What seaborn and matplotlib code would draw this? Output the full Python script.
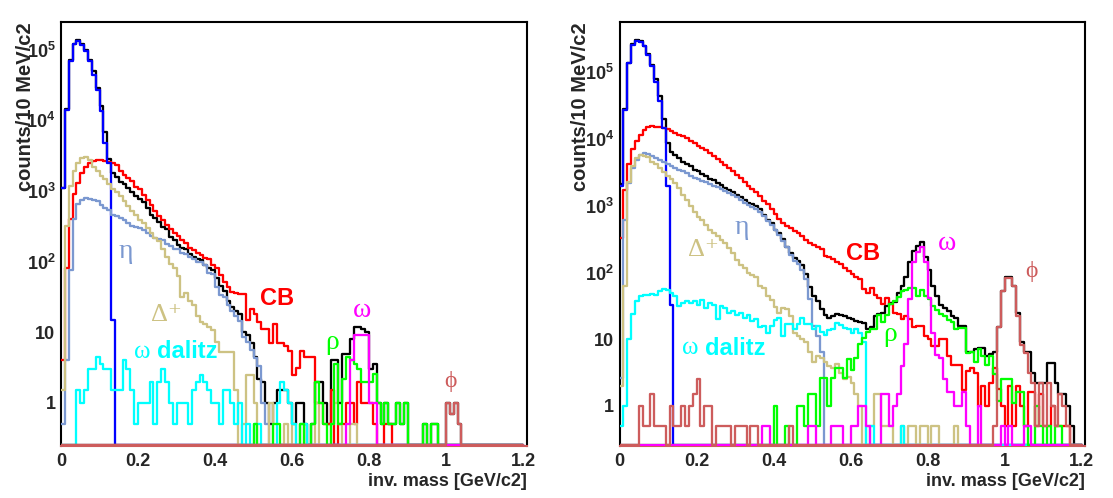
import numpy as np
import pandas as pd
import matplotlib
matplotlib.use("Agg")
import matplotlib.pyplot as plt
from matplotlib.ticker import MultipleLocator, LogLocator, FixedLocator, FuncFormatter, NullFormatter
import seaborn as sns

# 120 bins of 10 MeV from 0 to 1.2 GeV (counts per bin)

LEFT_BLACK = [
    1100, 14500, 70000, 120000, 135000, 120000, 98000, 71000, 49000, 29000,
    16000, 6900, 2800, 1800, 1550, 1350, 1250, 1100, 950, 850,
    760, 690, 580, 460, 420, 360, 310, 285, 220, 205,
    170, 155, 150, 130, 115, 110, 105, 90, 80, 75,
    58, 45, 38, 28, 23, 20, 18, 10, 9, 7,
    4.5, 2.2, 2, 1, 0.5, 1, 1.5, 1.5, 1.5, 1,
    0.5, 1, 1, 0.5, 0, 0.5, 2, 2, 1, 0.5,
    4, 4, 1, 5, 5, 8, 12, 12, 11, 10,
    3, 3.5, 1, 0.5, 1, 0.5, 0.5, 1, 0.5, 1,
    0, 0, 0, 0, 0.5, 0, 0.5, 0.5, 0, 0,
    1, 0.7, 1, 0.5, 0, 0, 0, 0, 0, 0,
    0, 0, 0, 0, 0, 0, 0, 0, 0, 0,
]
LEFT_CB = [
    4, 80, 400, 900, 1300, 1800, 2200, 2450, 2650, 2700,
    2700, 2650, 2600, 2500, 2300, 1900, 1700, 1500, 1380, 1150,
    1050, 880, 750, 640, 520, 440, 390, 330, 290, 255,
    230, 205, 182, 155, 147, 133, 125, 112, 110, 90,
    80, 65, 52, 44, 37, 36, 35, 35, 15, 21,
    18, 14, 11, 11, 7, 13, 7, 7, 6.3, 5.5,
    2.5, 3.1, 5.5, 4.4, 4.4, 4.4, 1, 1, 0.5, 0.5,
    1.5, 0, 0.5, 0.5, 1, 1, 0.5, 2, 1, 1,
    1, 0.5, 0, 0, 0.5, 0.5, 0, 0, 0, 0,
    0, 0, 0, 0, 0, 0, 0, 0, 0, 0,
    0, 0, 0, 0, 0, 0, 0, 0, 0, 0,
    0, 0, 0, 0, 0, 0, 0, 0, 0, 0,
]
LEFT_PI0 = [
    1100, 14000, 68000, 118000, 132000, 117000, 95000, 68000, 44000, 27000,
    13500, 4800, 2500, 15, 0, 0, 0, 0, 0, 0,
    0, 0, 0, 0, 0, 0, 0, 0, 0, 0,
    0, 0, 0, 0, 0, 0, 0, 0, 0, 0,
    0, 0, 0, 0, 0, 0, 0, 0, 0, 0,
    0, 0, 0, 0, 0, 0, 0, 0, 0, 0,
    0, 0, 0, 0, 0, 0, 0, 0, 0, 0,
    0, 0, 0, 0, 0, 0, 0, 0, 0, 0,
    0, 0, 0, 0, 0, 0, 0, 0, 0, 0,
    0, 0, 0, 0, 0, 0, 0, 0, 0, 0,
    0, 0, 0, 0, 0, 0, 0, 0, 0, 0,
    0, 0, 0, 0, 0, 0, 0, 0, 0, 0,
]
LEFT_ETA = [
    0.5, 4, 75, 400, 650, 750, 800, 780, 750, 720,
    640, 570, 530, 460, 440, 410, 390, 350, 315, 305,
    300, 280, 255, 230, 215, 210, 200, 180, 168, 150,
    150, 133, 128, 117, 110, 100, 98, 88, 70, 66,
    44, 34, 32, 24, 20, 17, 14.6, 8.7, 7.4, 5.6,
    4.3, 3.3, 1, 0.5, 0, 0, 0, 0, 0, 0,
    0, 0, 0, 0, 0, 0, 0, 0, 0, 0,
    0, 0, 0, 0, 0, 0, 0, 0, 0, 0,
    0, 0, 0, 0, 0, 0, 0, 0, 0, 0,
    0, 0, 0, 0, 0, 0, 0, 0, 0, 0,
    0, 0, 0, 0, 0, 0, 0, 0, 0, 0,
    0, 0, 0, 0, 0, 0, 0, 0, 0, 0,
]
LEFT_DELTA = [
    1.5, 320, 1170, 1900, 2500, 2900, 3000, 2750, 2200, 1900,
    1600, 1450, 1250, 1050, 950, 840, 720, 610, 520, 460,
    390, 350, 300, 255, 215, 195, 150, 115, 93, 80,
    63, 32, 36, 28, 24, 17, 14, 13, 12, 10.8,
    7.4, 5.3, 5.3, 5.3, 5.3, 1.5, 0, 0.5, 2.5, 2.5,
    1, 0, 0, 0, 1, 0, 0, 0, 0.5, 0,
    0.5, 0, 0.5, 0, 0, 0, 1, 0, 0, 0,
    0.5, 1, 0.5, 0, 0, 0.5, 0.5, 0, 0, 0,
    0, 0, 0, 0, 0, 0, 0, 0, 0, 0,
    0, 0, 0, 0, 0, 0, 0, 0, 0, 0,
    0, 0, 0, 0, 0, 0, 0, 0, 0, 0,
    0, 0, 0, 0, 0, 0, 0, 0, 0, 0,
]
LEFT_OMEGA_DALITZ = [
    0, 0, 0, 0, 1.5, 1, 1.5, 3, 3, 4.5,
    3.5, 3, 3, 1.5, 1.5, 1.5, 4, 3, 1.5, 0.5,
    1, 1, 1, 2, 0.5, 2, 3, 2, 1, 0.5,
    1, 1, 1, 0.5, 1.5, 2, 2.5, 2, 1.5, 1,
    1, 0.5, 1.5, 1.5, 1, 0.5, 1, 0, 0.5, 0,
    0.5, 0.5, 0, 0, 0, 0, 1, 2, 1.5, 1,
    0.5, 0, 0.5, 0.5, 0, 0, 0, 0, 0, 0,
    0, 0, 0, 0, 0, 0, 0, 0, 0, 0,
    0, 0, 0, 0, 0, 0, 0, 0, 0, 0,
    0, 0, 0, 0, 0, 0, 0, 0, 0, 0,
    0, 0, 0, 0, 0, 0, 0, 0, 0, 0,
    0, 0, 0, 0, 0, 0, 0, 0, 0, 0,
]
LEFT_RHO = [
    0, 0, 0, 0, 0, 0, 0, 0, 0, 0,
    0, 0, 0, 0, 0, 0, 0, 0, 0, 0,
    0, 0, 0, 0, 0, 0, 0, 0, 0, 0,
    0, 0, 0, 0, 0, 0, 0, 0, 0, 0,
    0, 0, 0, 0, 0, 0, 0, 0, 0, 0,
    0.5, 0, 0, 0, 0, 0.5, 0.5, 0, 0, 0,
    0, 0, 0.5, 0, 0, 0.5, 2, 1, 0.5, 0,
    0.5, 3.5, 0.5, 2.2, 4.5, 4, 3.5, 3, 2, 2,
    2, 2.6, 1, 0.5, 1, 0.5, 0.5, 1, 0.5, 1,
    0, 0, 0, 0, 0.5, 0, 0.5, 0.5, 0, 0,
    0, 0, 0, 0, 0, 0, 0, 0, 0, 0,
    0, 0, 0, 0, 0, 0, 0, 0, 0, 0,
]
LEFT_OMEGA = [
    0, 0, 0, 0, 0, 0, 0, 0, 0, 0,
    0, 0, 0, 0, 0, 0, 0, 0, 0, 0,
    0, 0, 0, 0, 0, 0, 0, 0, 0, 0,
    0, 0, 0, 0, 0, 0, 0, 0, 0, 0,
    0, 0, 0, 0, 0, 0, 0, 0, 0, 0,
    0, 0, 0, 0, 0, 0, 0, 0, 0, 0,
    0, 0, 0, 0, 0, 0, 0, 0, 0, 0,
    0, 0, 0, 0, 0.5, 4, 9, 9, 9, 9,
    1, 1, 0, 0, 0, 0, 0, 0, 0, 0,
    0, 0, 0, 0, 0, 0, 0, 0, 0, 0,
    0, 0, 0, 0, 0, 0, 0, 0, 0, 0,
    0, 0, 0, 0, 0, 0, 0, 0, 0, 0,
]
LEFT_PHI = [
    0, 0, 0, 0, 0, 0, 0, 0, 0, 0,
    0, 0, 0, 0, 0, 0, 0, 0, 0, 0,
    0, 0, 0, 0, 0, 0, 0, 0, 0, 0,
    0, 0, 0, 0, 0, 0, 0, 0, 0, 0,
    0, 0, 0, 0, 0, 0, 0, 0, 0, 0,
    0, 0, 0, 0, 0, 0, 0, 0, 0, 0,
    0, 0, 0, 0, 0, 0, 0, 0, 0, 0,
    0, 0, 0, 0, 0, 0, 0, 0, 0, 0,
    0, 0, 0, 0, 0, 0, 0, 0, 0, 0,
    0, 0, 0, 0, 0, 0, 0, 0, 0, 0,
    1, 0.7, 1, 0.5, 0, 0, 0, 0, 0, 0,
    0, 0, 0, 0, 0, 0, 0, 0, 0, 0,
]

RIGHT_BLACK = [
    2100, 28000, 140000, 265000, 305000, 296000, 252000, 192000, 130000, 80000,
    44000, 20000, 8700, 6500, 5800, 5200, 4600, 4250, 3900, 3500,
    3300, 3000, 2750, 2550, 2400, 2200, 2050, 1850, 1720, 1600,
    1450, 1350, 1230, 1120, 1050, 980, 880, 735, 615, 560,
    440, 390, 316, 245, 195, 164, 147, 130, 95, 60,
    44, 37, 28, 23, 21, 22, 24, 23, 22, 21,
    20, 18.5, 18, 17.5, 14, 15, 22, 24, 25, 31,
    35, 36, 50, 62, 87, 145, 210, 250, 290, 170,
    110, 62, 44, 33, 29, 26, 22, 21, 15.5, 15.5,
    6.5, 6.5, 7, 7.3, 7.3, 5.5, 6, 6.5, 15, 52,
    87, 87, 62, 25, 9.2, 6.5, 6.5, 3.1, 2.2, 2.2,
    2.2, 4.4, 4.4, 2.2, 1.5, 1.5, 1, 0.5, 0, 0,
]
RIGHT_CB = [
    330, 1700, 4300, 7000, 9500, 11500, 13500, 15000, 15500, 15300,
    15000, 14500, 14000, 13200, 12500, 11700, 11000, 10300, 9500, 8700,
    8000, 7400, 6800, 6200, 5600, 5000, 4500, 4100, 3700, 3300,
    2900, 2600, 2300, 2000, 1800, 1600, 1400, 1200, 1050, 900,
    760, 640, 550, 500, 460, 420, 385, 350, 310, 280,
    255, 240, 225, 178, 172, 160, 145, 135, 118, 105,
    95, 85, 80, 56, 50, 58, 46, 41, 34, 42,
    34, 25, 24, 20, 22, 20, 15, 15.5, 15.5, 11,
    10, 7.8, 7.8, 9.9, 9.9, 5.5, 4.1, 4.1, 4.1, 1.7,
    3.3, 3.7, 3.1, 1, 2, 1, 2.2, 3.7, 1.8, 1,
    0.5, 2, 0.5, 2, 1, 0.5, 1.6, 1.6, 0.5, 1.5,
    0.5, 0.5, 1, 0.5, 0.5, 0.5, 0.5, 0, 0, 0,
]
RIGHT_PI0 = [
    2000, 27500, 138000, 260000, 300000, 290000, 245000, 185000, 123000, 73000,
    37000, 14700, 2000, 32, 0, 0, 0, 0, 0, 0,
    0, 0, 0, 0, 0, 0, 0, 0, 0, 0,
    0, 0, 0, 0, 0, 0, 0, 0, 0, 0,
    0, 0, 0, 0, 0, 0, 0, 0, 0, 0,
    0, 0, 0, 0, 0, 0, 0, 0, 0, 0,
    0, 0, 0, 0, 0, 0, 0, 0, 0, 0,
    0, 0, 0, 0, 0, 0, 0, 0, 0, 0,
    0, 0, 0, 0, 0, 0, 0, 0, 0, 0,
    0, 0, 0, 0, 0, 0, 0, 0, 0, 0,
    0, 0, 0, 0, 0, 0, 0, 0, 0, 0,
    0, 0, 0, 0, 0, 0, 0, 0, 0, 0,
]
RIGHT_ETA = [
    2.6, 620, 2200, 3700, 4900, 5800, 6200, 6000, 5500, 5200,
    4900, 4600, 4250, 3950, 3700, 3500, 3300, 3050, 2800, 2650,
    2500, 2350, 2240, 2120, 2000, 1890, 1780, 1680, 1580, 1470,
    1360, 1240, 1120, 1030, 950, 880, 820, 700, 600, 520,
    430, 360, 300, 240, 185, 150, 132, 110, 80, 40,
    16, 11, 6.5, 0, 0, 0, 0, 0, 0, 0,
    0, 0, 0, 0, 0, 0, 0, 0, 0, 0,
    0, 0, 0, 0, 0, 0, 0, 0, 0, 0,
    0, 0, 0, 0, 0, 0, 0, 0, 0, 0,
    0, 0, 0, 0, 0, 0, 0, 0, 0, 0,
    0, 0, 0, 0, 0, 0, 0, 0, 0, 0,
    0, 0, 0, 0, 0, 0, 0, 0, 0, 0,
]
RIGHT_DELTA = [
    2, 62, 2300, 3900, 5200, 5800, 5600, 5300, 4600, 4250,
    3700, 3200, 2800, 2500, 2200, 1850, 1450, 1230, 990, 820,
    690, 610, 520, 440, 390, 350, 310, 275, 230, 195,
    155, 130, 115, 98, 92, 87, 62, 58, 45, 39,
    30, 25, 29, 28, 22, 12.5, 11, 10, 9, 6.5,
    4.6, 5.5, 5.3, 4.6, 3.9, 3.7, 4.2, 3.1, 2.5, 2.7,
    2.2, 1.5, 1, 0, 0.5, 0.5, 1.5, 1.5, 0.5, 0.5,
    0.5, 0, 0, 0.5, 0, 0.5, 0.5, 0, 0.5, 0.5,
    0, 0.5, 0.5, 0, 0, 0, 0, 0.5, 0, 0,
    0, 0, 0, 0, 0, 0, 0, 0, 0, 0,
    0, 0, 0, 0, 0, 0, 0, 0, 0, 0,
    0, 0, 0, 0, 0, 0, 0, 0, 0, 0,
]
RIGHT_OMEGA_DALITZ = [
    0.5, 1, 10, 24, 37, 44, 46, 46, 47, 46,
    52, 56, 54, 49, 45, 31, 35, 37, 35, 37,
    33, 38, 29, 35, 33, 20, 31, 29, 25, 26,
    23, 25, 21, 23, 18.5, 20, 15, 16, 12.5, 16,
    19.5, 21, 11, 17, 17, 14, 17, 21, 17, 17,
    14, 15.5, 13, 11.5, 13.5, 14, 17.5, 16.5, 14.5, 14,
    12.5, 14, 12.5, 9, 0, 0.5, 0, 0, 0, 0,
    0, 0, 0, 0.5, 0, 0, 0, 0, 0, 0,
    0, 0, 0, 0, 0, 0, 0, 0, 0, 0,
    0, 0, 0, 0, 0, 0, 0, 0, 0, 0,
    0, 0, 0, 0, 0, 0, 0, 0, 0, 0,
    0, 0, 0, 0, 0, 0, 0, 0, 0, 0,
]
RIGHT_RHO = [
    0, 0, 0, 0, 0, 0, 0, 0, 0, 0,
    0, 0, 0, 0, 0, 0, 0, 0, 0, 0,
    0, 0, 0, 0, 0, 0, 0, 0, 0, 0,
    0, 0, 0, 0, 0, 0, 0, 0, 0, 0,
    1, 0, 0, 0.5, 0, 0, 1, 1, 0.5, 1.5,
    1.5, 0.5, 2.6, 2.6, 1, 2.6, 3.7, 3.7, 2.6, 5,
    3.5, 5.3, 8.5, 10.5, 13, 14, 14, 23, 18, 23,
    34, 37, 43, 52, 55, 58, 58, 45, 55, 44,
    40, 31, 27, 24, 22, 19.5, 18, 14, 14.5, 14.5,
    6.2, 6.5, 4.5, 7, 5.5, 4.1, 5.5, 3, 1.2, 2.5,
    2.5, 2.5, 1.1, 1.6, 1.6, 0.5, 0, 0, 1, 0.5,
    0, 0.5, 0, 0.5, 0.5, 0, 0, 0, 0, 0,
]
RIGHT_OMEGA = [
    0, 0, 0, 0, 0, 0, 0, 0, 0, 0,
    0, 0, 0, 0, 0, 0, 0, 0, 0, 0,
    0, 0, 0, 0, 0, 0, 0, 0, 0, 0,
    0, 0, 0, 0, 0, 0, 0, 0.5, 0.5, 0,
    0, 0, 0, 0, 0, 0, 0, 0, 0, 0.5,
    0.5, 0, 0, 0, 0, 0.5, 0.5, 0.5, 0, 0,
    0.5, 0.5, 1, 1, 0.5, 0, 0, 0, 1.5, 1.5,
    0.5, 1, 1.5, 4, 8.5, 40, 145, 200, 245, 145,
    41, 12.3, 5.8, 5.2, 2.5, 1.6, 1.6, 1, 1, 1.6,
    0.5, 0, 0, 1, 0, 0, 0, 0, 0, 0.5,
    0, 0.5, 0, 0, 0, 0.5, 0.5, 0, 0, 0,
    0, 0, 0, 0, 0, 0, 0, 0, 0, 0,
]
RIGHT_PHI = [
    0, 0, 0, 0, 0, 1, 0.5, 0.5, 1.5, 0.5,
    0.5, 0.5, 0, 1, 0.5, 0.5, 1, 0.5, 1, 1.5,
    2.5, 0.5, 1, 1, 0, 0.5, 0.5, 0.5, 0.5, 0,
    0.5, 0.5, 0.5, 0, 0.5, 0.5, 0, 0, 0, 0,
    0, 0, 0, 0, 0.5, 0, 0, 0, 0, 0,
    0, 0, 0, 0, 0, 0, 0, 0, 0, 0,
    0, 0, 0, 0, 0, 0, 0, 0, 0, 0,
    0, 0, 0, 0, 0, 0, 0, 0, 0, 0,
    0, 0, 0, 0, 0, 0, 0, 0, 0, 0,
    0, 0, 0, 0, 0, 0, 0, 0.5, 15, 52,
    82, 82, 62, 22, 8.2, 6.2, 3.1, 2.2, 0.5, 2.2,
    0.5, 2.2, 1, 0.5, 1.5, 1, 0.5, 0, 0, 0,
]

# colours of the components
C_TOTAL = "#000000"
C_CB = "#ff0000"
C_PI0 = "#0000ff"
C_ETA = "#7b98d0"
C_DELTA = "#cdc283"
C_OMEGA_DALITZ = "#00ffff"
C_RHO = "#00ff00"
C_OMEGA = "#ff00ff"
C_PHI = "#cd5c5c"

N_BINS = 120
MASS_RANGE = (0.0, 1.2)
CENTERS = MASS_RANGE[0] + (np.arange(N_BINS) + 0.5) * (MASS_RANGE[1] - MASS_RANGE[0]) / N_BINS
XMAX = 1.209
LW = 1.65
AX_H_PX = 424
GREEK = ["Liberation Serif", "DejaVu Serif"]
SANS = ["Liberation Sans", "DejaVu Sans"]


def draw_step(ax, values, color, floor):
    """One ROOT-like step histogram; empty bins are drawn along the lower frame."""
    vals = np.asarray(values, dtype=float)
    df = pd.DataFrame({"mass": CENTERS, "counts": np.where(vals > 0, vals, floor)})
    sns.histplot(data=df, x="mass", weights="counts", bins=N_BINS,
                 binrange=MASS_RANGE, element="step", fill=False,
                 color=color, linewidth=LW, zorder=3, ax=ax)


def x_label_fmt(v, pos):
    v = round(v, 2)
    return "0" if v == 0 else f"{v:g}"


def y_label_fmt(v, pos):
    e = int(round(np.log10(v)))
    if e == 0:
        return "1"
    if e == 1:
        return "10"
    return r"$\mathbf{10}^{\mathregular{%d}}$" % e


def style_axes(ax, ymin, ymax):
    ax.set_yscale("log")
    ax.set_xlim(0, XMAX)
    ax.set_ylim(ymin, ymax)
    ax.set_xlabel("")
    ax.set_ylabel("")
    ax.xaxis.set_major_locator(MultipleLocator(0.2))
    ax.xaxis.set_minor_locator(MultipleLocator(0.05))
    ax.xaxis.set_major_formatter(FuncFormatter(x_label_fmt))
    decades = 10.0 ** np.arange(0, int(np.floor(np.log10(ymax))) + 1)
    ax.yaxis.set_major_locator(FixedLocator(decades))
    ax.yaxis.set_minor_locator(LogLocator(base=10, subs=np.arange(2, 10), numticks=12))
    ax.yaxis.set_major_formatter(FuncFormatter(y_label_fmt))
    ax.yaxis.set_minor_formatter(NullFormatter())
    ax.tick_params(axis="x", which="major", direction="in", length=8.6, width=1.2,
                   labelsize=13, pad=5, top=False)
    ax.tick_params(axis="x", which="minor", direction="in", length=4.3, width=1.2, top=False)
    ax.tick_params(axis="y", which="major", direction="in", length=10.8, width=1.2,
                   labelsize=13, pad=4, right=False)
    ax.tick_params(axis="y", which="minor", direction="in", length=5, width=1.2, right=False)
    for sp in ax.spines.values():
        sp.set_linewidth(1.5)
        sp.set_color("black")
    ax.spines["bottom"].set_color(C_PHI)


def draw_panel(ax, series, ymin, ymax):
    # empty bins sit one pixel above the lower edge so they show like in ROOT
    floor = ymin * (ymax / ymin) ** (1.0 / AX_H_PX)
    for values, color in series:
        draw_step(ax, values, color, floor)
    style_axes(ax, ymin, ymax)


def label(ax, x, y, text, color, size=20, bold=False, greek=True):
    ax.text(x, y, text, color=color, fontsize=size, ha="center", va="center",
            family=GREEK if greek else SANS,
            fontweight="bold" if bold else "normal")


def omega_dalitz(ax, x, y):
    ax.text(x, y, "ω", color=C_OMEGA_DALITZ, fontsize=18, ha="right", va="center",
            family=GREEK, fontweight="normal")
    ax.annotate("dalitz", xy=(x, y), xytext=(5, 0), textcoords="offset points",
                color=C_OMEGA_DALITZ, fontsize=17, ha="left", va="center",
                family=SANS, fontweight="bold")


def main():
    sns.set_style("white")
    plt.rcParams["font.family"] = SANS
    plt.rcParams["font.weight"] = "bold"
    plt.rcParams["mathtext.fontset"] = "custom"
    plt.rcParams["mathtext.bf"] = "Liberation Sans:bold"
    plt.rcParams["mathtext.rm"] = "Liberation Sans"

    fig = plt.figure(figsize=(11.13, 4.98), dpi=100)
    ax_l = fig.add_axes([61 / 1113, 1 - 446 / 498, 465.5 / 1113, AX_H_PX / 498])
    ax_r = fig.add_axes([619.5 / 1113, 1 - 446 / 498, 465.5 / 1113, AX_H_PX / 498])

    draw_panel(ax_l, [
        (LEFT_BLACK, C_TOTAL), (LEFT_CB, C_CB), (LEFT_PI0, C_PI0),
        (LEFT_ETA, C_ETA), (LEFT_DELTA, C_DELTA), (LEFT_OMEGA_DALITZ, C_OMEGA_DALITZ),
        (LEFT_RHO, C_RHO), (LEFT_OMEGA, C_OMEGA), (LEFT_PHI, C_PHI),
    ], 0.246, 2.45e5)

    draw_panel(ax_r, [
        (RIGHT_BLACK, C_TOTAL), (RIGHT_CB, C_CB), (RIGHT_PI0, C_PI0),
        (RIGHT_ETA, C_ETA), (RIGHT_DELTA, C_DELTA), (RIGHT_OMEGA_DALITZ, C_OMEGA_DALITZ),
        (RIGHT_RHO, C_RHO), (RIGHT_OMEGA, C_OMEGA), (RIGHT_PHI, C_PHI),
    ], 0.25, 5.7e5)

    # component names, left panel
    label(ax_l, 0.169, 140, "η", C_ETA)
    label(ax_l, 0.56, 30, "CB", C_CB, 17, bold=True, greek=False)
    label(ax_l, 0.274, 17.5, "Δ⁺", C_DELTA, 19)
    omega_dalitz(ax_l, 0.232, 5.3)
    label(ax_l, 0.703, 7.1, "ρ", C_RHO)
    label(ax_l, 0.781, 20.5, "ω", C_OMEGA)
    label(ax_l, 1.012, 2.0, "ϕ", C_PHI, 17)

    # component names, right panel
    label(ax_r, 0.318, 470, "η", C_ETA)
    label(ax_r, 0.217, 215, "Δ⁺", C_DELTA, 19)
    label(ax_r, 0.633, 195, "CB", C_CB, 17, bold=True, greek=False)
    label(ax_r, 0.85, 275, "ω", C_OMEGA)
    label(ax_r, 1.071, 103, "ϕ", C_PHI, 17)
    label(ax_r, 0.703, 11.6, "ρ", C_RHO)
    omega_dalitz(ax_r, 0.204, 7.3)

    # axis titles, ROOT style: y title at the top, x title at the right
    for x_ylab, x_right in [(26 / 1113, 526.5 / 1113), (580 / 1113, 1085 / 1113)]:
        fig.text(x_ylab, 1 - 22 / 498, "counts/10 MeV/c2", rotation=90,
                 ha="center", va="top", fontsize=14.5, fontweight="bold")
        fig.text(x_right, 1 - 481 / 498, "inv. mass [GeV/c2]", ha="right",
                 va="center", fontsize=13, fontweight="bold")

    fig.savefig("out.png", dpi=100)
    plt.close(fig)


if __name__ == "__main__":
    main()
